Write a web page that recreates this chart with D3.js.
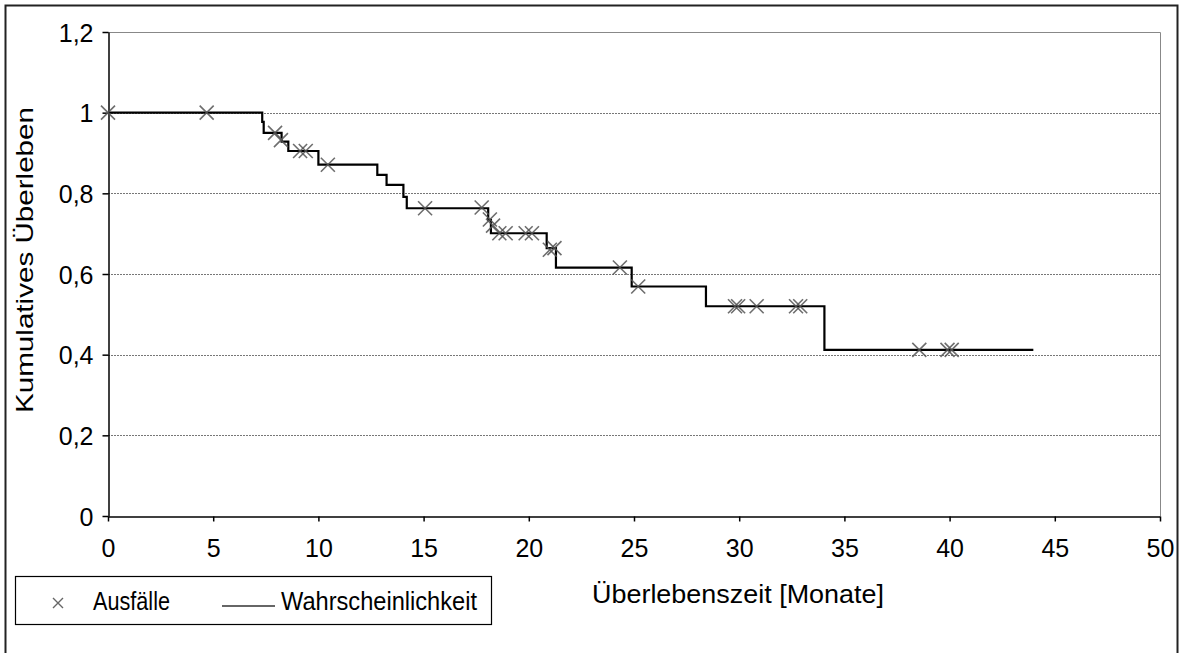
<!DOCTYPE html>
<html>
<head>
<meta charset="utf-8">
<script src="https://cdn.jsdelivr.net/npm/d3@7"></script>
<style>
  html, body { margin: 0; padding: 0; background: #fff; }
  svg { display: block; }
  text { font-family: "Liberation Sans", Arial, sans-serif; fill: #000; }
</style>
</head>
<body>
<svg id="chart" width="1181" height="653"></svg>
<script>
// Kaplan-Meier step curve: [time in months, cumulative survival after the step]
const stepTimes  = [0, 7.33, 7.40, 8.25, 8.57, 10.0, 12.8, 13.24, 14.04, 14.2, 18.07, 18.2, 20.85, 21.29, 24.89, 28.42, 34.05];
const stepValues = [1.0, 0.977, 0.95, 0.928, 0.905, 0.871, 0.846, 0.821, 0.791, 0.763, 0.734, 0.701, 0.664, 0.616, 0.569, 0.520, 0.412];
const curveEnd = 43.98;

// Failure events (Ausfälle)
const eventTimes  = [0, 4.69, 7.94, 8.22, 9.13, 9.40, 10.45, 15.07, 17.76, 18.15, 18.3, 18.6, 18.9, 19.85, 20.15, 21.0, 21.22, 24.33, 25.2, 29.8, 29.95, 30.83, 32.7, 32.9, 38.56, 39.9, 40.1];
const eventValues = [1.0, 1.0, 0.95, 0.932, 0.905, 0.905, 0.871, 0.763, 0.765, 0.735, 0.72, 0.701, 0.701, 0.701, 0.701, 0.66, 0.664, 0.616, 0.569, 0.520, 0.520, 0.520, 0.520, 0.520, 0.412, 0.412, 0.412];

const xTicks = [0, 5, 10, 15, 20, 25, 30, 35, 40, 45, 50];
const yTicks = [0, 0.2, 0.4, 0.6, 0.8, 1.0, 1.2];
const yGrid  = [0.2, 0.4, 0.6, 0.8, 1.0];

(function draw() {
  const svg = d3.select("#chart");
  const plotL = 108, plotR = 1160, plotT = 32, plotB = 516;

  const x = d3.scaleLinear().domain([0, 50]).range([plotL, plotR]);
  const y = d3.scaleLinear().domain([0, 1.2]).range([plotB, plotT]);
  const fmt = v => d3.format("~g")(v).replace(".", ",");

  // outer frame
  svg.append("rect")
    .attr("x", 5.5).attr("y", 5.5).attr("width", 1172).attr("height", 660)
    .attr("fill", "none").attr("stroke", "#222").attr("stroke-width", 2);

  // plot area border (top and right)
  svg.append("path")
    .attr("d", `M${plotL},${plotT + 0.5}H${plotR + 0.5}V${plotB}`)
    .attr("fill", "none").attr("stroke", "#888").attr("stroke-width", 1);

  // dotted horizontal gridlines
  svg.append("g").selectAll("line").data(yGrid).join("line")
    .attr("x1", plotL).attr("x2", plotR)
    .attr("y1", d => Math.round(y(d)) + 0.5).attr("y2", d => Math.round(y(d)) + 0.5)
    .attr("stroke", "#777").attr("stroke-width", 1).attr("stroke-dasharray", "2,1");

  // axes
  const xAxis = svg.append("g")
    .attr("transform", `translate(0,${plotB + 0.5})`)
    .call(d3.axisBottom(x).tickValues(xTicks).tickFormat(fmt).tickSizeInner(5).tickSizeOuter(0).tickPadding(20));
  xAxis.select(".domain").attr("stroke", "#000").attr("stroke-width", 1.5);
  xAxis.selectAll(".tick line").attr("stroke", "#000").attr("stroke-width", 1.5);
  xAxis.selectAll(".tick text")
    .attr("font-size", 25).attr("font-family", "Liberation Sans, Arial, sans-serif")
    .attr("fill", "#000").attr("dy", "0.71em").attr("y", 23);

  const yAxis = svg.append("g")
    .attr("transform", `translate(${plotL + 0.5},0)`)
    .call(d3.axisLeft(y).tickValues(yTicks).tickFormat(fmt).tickSizeInner(6).tickSizeOuter(0).tickPadding(9));
  yAxis.select(".domain").attr("stroke", "#000").attr("stroke-width", 1.5);
  yAxis.selectAll(".tick line").attr("stroke", "#000").attr("stroke-width", 1.5);
  yAxis.selectAll(".tick text")
    .attr("font-size", 25).attr("font-family", "Liberation Sans, Arial, sans-serif")
    .attr("fill", "#000").attr("dy", "0.36em");

  // step curve
  const curvePts = stepTimes.map((t, i) => [t, stepValues[i]]);
  curvePts.push([curveEnd, stepValues[stepValues.length - 1]]);
  const line = d3.line().x(d => x(d[0])).y(d => y(d[1])).curve(d3.curveStepAfter);
  svg.append("path")
    .datum(curvePts)
    .attr("d", line)
    .attr("fill", "none").attr("stroke", "#000").attr("stroke-width", 2.2);

  // event markers
  const xMark = s => `M${-s},${-s}L${s},${s}M${-s},${s}L${s},${-s}`;
  svg.append("g").selectAll("path").data(eventTimes.map((t, i) => [t, eventValues[i]])).join("path")
    .attr("transform", d => `translate(${x(d[0])},${y(d[1])})`)
    .attr("d", xMark(7))
    .attr("fill", "none").attr("stroke", "#555").attr("stroke-width", 1.6).attr("stroke-opacity", 0.85);

  // axis titles
  svg.append("text")
    .attr("transform", "translate(33,260) rotate(-90)")
    .attr("text-anchor", "middle")
    .attr("font-size", 24)
    .attr("textLength", 306).attr("lengthAdjust", "spacingAndGlyphs")
    .text("Kumulatives Überleben");

  svg.append("text")
    .attr("x", 592).attr("y", 603)
    .attr("font-size", 25)
    .attr("textLength", 292).attr("lengthAdjust", "spacingAndGlyphs")
    .text("Überlebenszeit [Monate]");

  // legend
  const lg = svg.append("g");
  lg.append("rect")
    .attr("x", 15.5).attr("y", 576.5).attr("width", 476).attr("height", 48)
    .attr("fill", "#fff").attr("stroke", "#000").attr("stroke-width", 1.2);
  lg.append("path")
    .attr("transform", "translate(58,603)")
    .attr("d", xMark(5))
    .attr("fill", "none").attr("stroke", "#666").attr("stroke-width", 1.4);
  lg.append("text")
    .attr("x", 93).attr("y", 610).attr("font-size", 25)
    .attr("textLength", 77).attr("lengthAdjust", "spacingAndGlyphs")
    .text("Ausfälle");
  lg.append("line")
    .attr("x1", 222).attr("x2", 275).attr("y1", 606).attr("y2", 606)
    .attr("stroke", "#333").attr("stroke-width", 1.5);
  lg.append("text")
    .attr("x", 281).attr("y", 610).attr("font-size", 25)
    .attr("textLength", 196).attr("lengthAdjust", "spacingAndGlyphs")
    .text("Wahrscheinlichkeit");
})();
</script>
</body>
</html>
